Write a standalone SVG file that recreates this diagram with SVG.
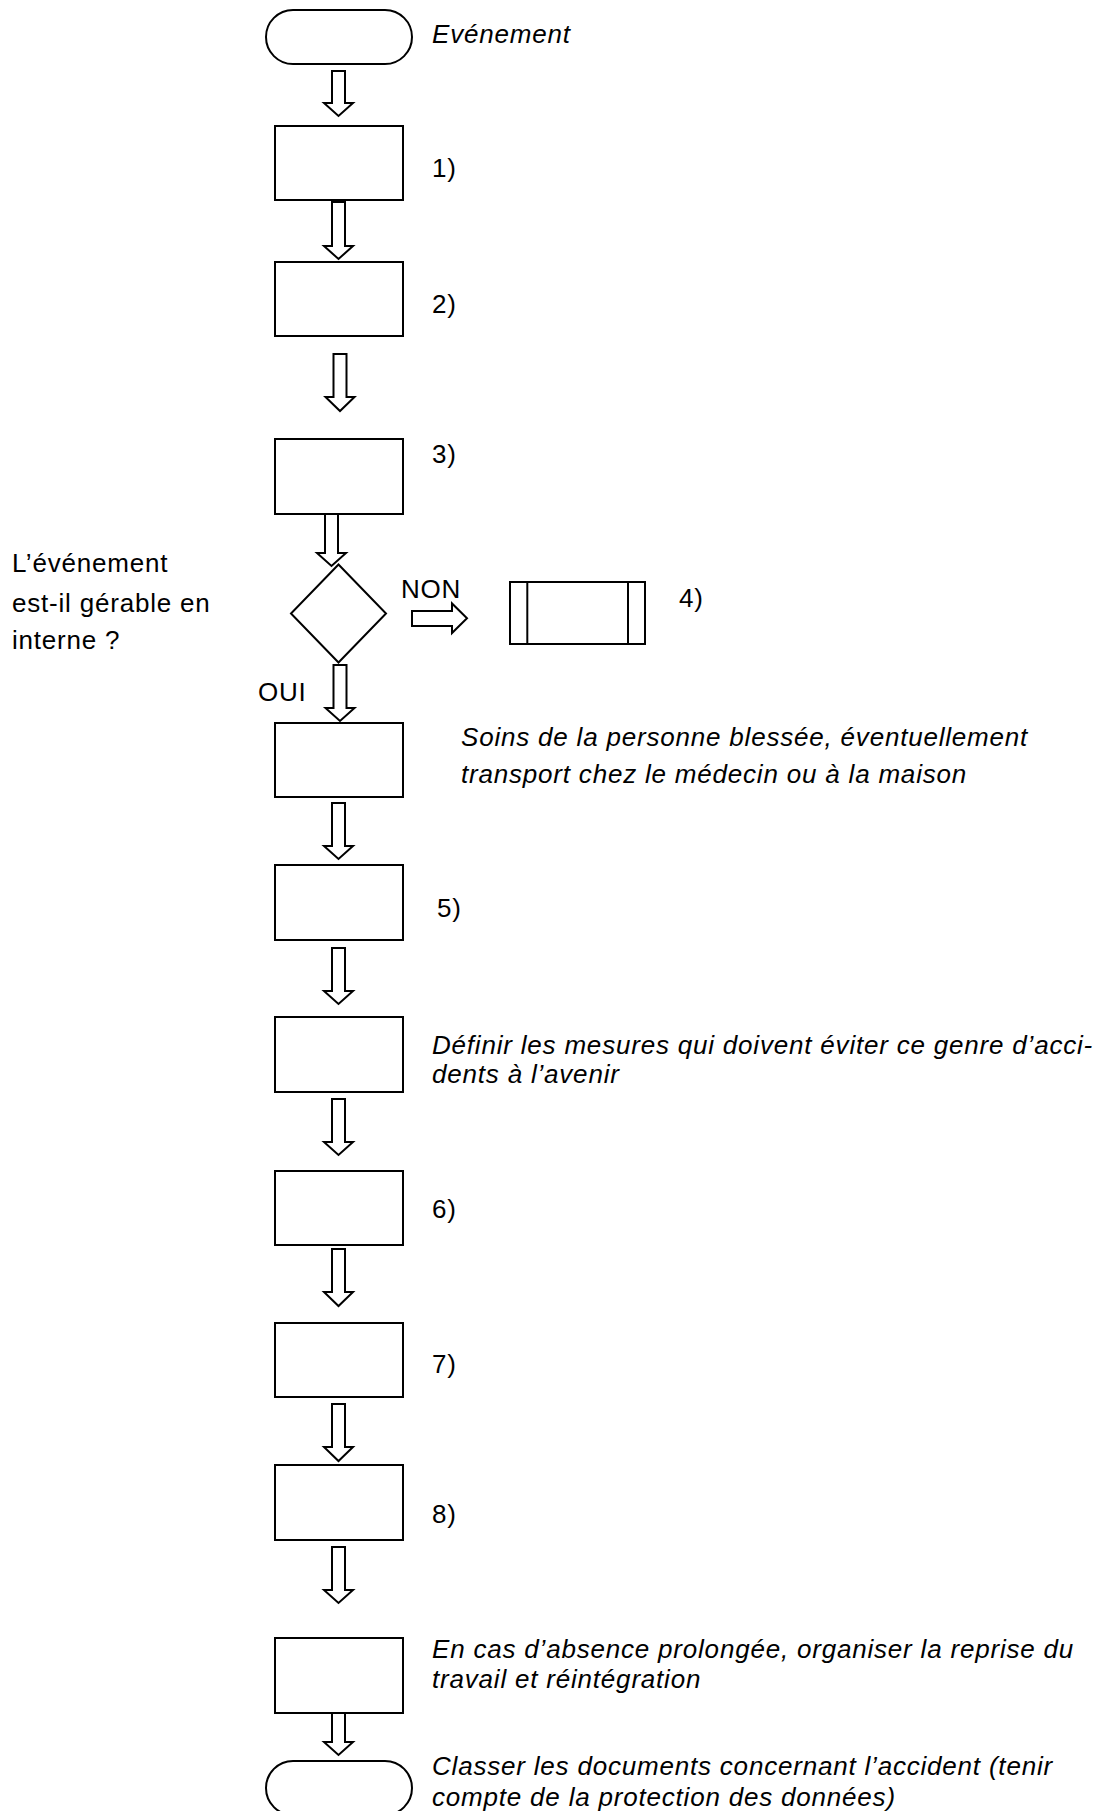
<svg xmlns="http://www.w3.org/2000/svg" width="1102" height="1811" viewBox="0 0 1102 1811">
<style>
.s{fill:#fff;stroke:#000;stroke-width:2}
.t{font-family:"Liberation Sans",Arial,sans-serif;font-size:26px;letter-spacing:0.8px;fill:#000}
.i{font-style:italic}
</style>
<rect x="0" y="0" width="1102" height="1811" fill="#fff"/>
<g id="connectors">
<polygon class="s" points="332,71 345,71 345,103 353,103 338.5,116 324,103 332,103"/>
<polygon class="s" points="332,202 345,202 345,246 353,246 338.5,259 324,246 332,246"/>
<polygon class="s" points="333.5,354 346.5,354 346.5,397 354.5,397 340,411 325.5,397 333.5,397"/>
<polygon class="s" points="325,512 338,512 338,553 346,553 331.5,566 317,553 325,553"/>
<polygon class="s" points="333.5,665 346.5,665 346.5,708 354.5,708 340,721 325.5,708 333.5,708"/>
<polygon class="s" points="332,803 345,803 345,846 353,846 338.5,859 324,846 332,846"/>
<polygon class="s" points="332,948 345,948 345,991 353,991 338.5,1004 324,991 332,991"/>
<polygon class="s" points="332,1099 345,1099 345,1142 353,1142 338.5,1155 324,1142 332,1142"/>
<polygon class="s" points="332,1249 345,1249 345,1292 353,1292 338.5,1306 324,1292 332,1292"/>
<polygon class="s" points="332,1404 345,1404 345,1447 353,1447 338.5,1461 324,1447 332,1447"/>
<polygon class="s" points="332,1547 345,1547 345,1590 353,1590 338.5,1603 324,1590 332,1590"/>
<polygon class="s" points="332,1710 345,1710 345,1742 353,1742 338.5,1755 324,1742 332,1742"/>
<polygon class="s" points="412,611 452,611 452,603.5 467,618.3 452,633 452,626 412,626"/>
</g>
<g id="start">
<rect class="s" x="266" y="10" width="146" height="54" rx="27" ry="27"/>
<text class="t i" x="432" y="43">Evénement</text>
</g>
<g id="step1">
<rect class="s" x="275" y="126" width="128" height="74"/>
<text class="t" x="432" y="177">1)</text>
</g>
<g id="step2">
<rect class="s" x="275" y="262" width="128" height="74"/>
<text class="t" x="432" y="313">2)</text>
</g>
<g id="step3">
<rect class="s" x="275" y="439" width="128" height="75"/>
<text class="t" x="432" y="463">3)</text>
</g>
<g id="decision">
<polygon class="s" points="338.5,564.5 386,613.5 338.5,662.5 291,613.5"/>
<text class="t" x="12" y="572">L’événement</text>
<text class="t" x="12" y="612">est-il gérable en</text>
<text class="t" x="12" y="649">interne ?</text>
<text class="t" x="401" y="598">NON</text>
<text class="t" x="258" y="701">OUI</text>
</g>
<g id="step4">
<rect class="s" x="510" y="582" width="135" height="62"/>
<line class="s" x1="527.3" y1="582" x2="527.3" y2="644"/>
<line class="s" x1="628" y1="582" x2="628" y2="644"/>
<text class="t" x="679" y="607">4)</text>
</g>
<g id="care">
<rect class="s" x="275" y="723" width="128" height="74"/>
<text class="t i" x="461" y="746">Soins de la personne blessée, éventuellement</text>
<text class="t i" x="461" y="783">transport chez le médecin ou à la maison</text>
</g>
<g id="step5">
<rect class="s" x="275" y="865" width="128" height="75"/>
<text class="t" x="437" y="917">5)</text>
</g>
<g id="measures">
<rect class="s" x="275" y="1017" width="128" height="75"/>
<text class="t i" x="432" y="1054">Définir les mesures qui doivent éviter ce genre d’acci-</text>
<text class="t i" x="432" y="1083">dents à l’avenir</text>
</g>
<g id="step6">
<rect class="s" x="275" y="1171" width="128" height="74"/>
<text class="t" x="432" y="1218">6)</text>
</g>
<g id="step7">
<rect class="s" x="275" y="1323" width="128" height="74"/>
<text class="t" x="432" y="1373">7)</text>
</g>
<g id="step8">
<rect class="s" x="275" y="1465" width="128" height="75"/>
<text class="t" x="432" y="1523">8)</text>
</g>
<g id="reintegration">
<rect class="s" x="275" y="1638" width="128" height="75"/>
<text class="t i" x="432" y="1658">En cas d’absence prolongée, organiser la reprise du</text>
<text class="t i" x="432" y="1688">travail et réintégration</text>
</g>
<g id="end">
<rect class="s" x="266" y="1761" width="146" height="54" rx="27" ry="27"/>
<text class="t i" x="432" y="1775">Classer les documents concernant l’accident (tenir</text>
<text class="t i" x="432" y="1806">compte de la protection des données)</text>
</g>
</svg>
